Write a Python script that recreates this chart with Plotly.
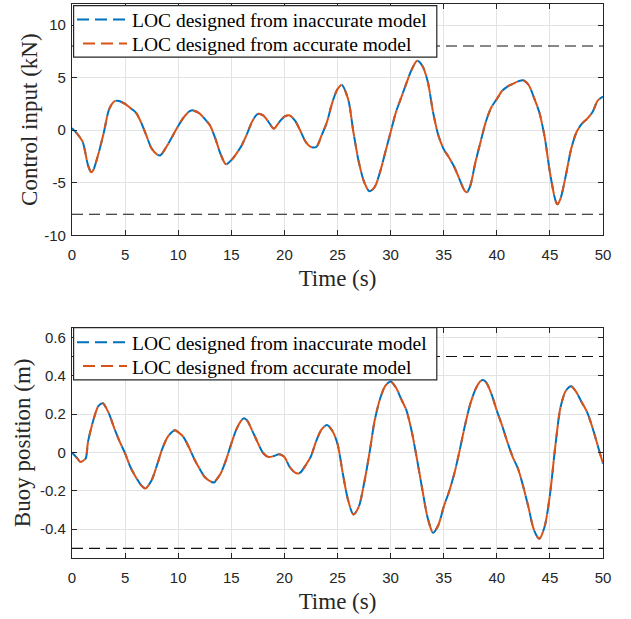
import plotly.graph_objects as go

# ---------------- data ----------------
t_u = [0, 0.5, 1, 1.5, 1.8, 2, 2.5, 3, 3.5, 4, 4.3, 4.5, 5, 5.5, 6, 6.5, 7, 7.5, 8, 8.3, 8.5,
       9, 9.5, 10, 10.5, 11, 11.3, 11.5, 12, 12.5, 13, 13.5, 14, 14.5, 15, 15.5, 16, 16.5, 17,
       17.5, 18, 18.5, 19, 19.5, 20, 20.5, 21, 21.5, 22, 22.5, 23, 23.5, 24, 24.5, 25, 25.4,
       26, 26.5, 27, 27.5, 28, 28.5, 29, 29.5, 30, 30.5, 31, 31.5, 32, 32.5, 33, 33.5, 34,
       34.5, 35, 35.5, 36, 36.5, 37, 37.2, 37.5, 38, 38.5, 39, 39.5, 40, 40.5, 41, 41.5, 42,
       42.5, 43, 43.5, 44, 44.5, 45, 45.5, 45.7, 46, 46.5, 47, 47.5, 48, 48.5, 49, 49.5, 50]
u_inaccurate = [0.2, -0.35, -1.1, -3.3, -4.0, -3.8, -2.2, -0.2, 2.0, 2.75, 2.8, 2.75, 2.5, 2.1,
                1.7, 0.75, -0.5, -1.75, -2.3, -2.4, -2.2, -1.4, -0.5, 0.4, 1.2, 1.75, 1.9, 1.85,
                1.6, 1.07, 0.45, -0.8, -2.3, -3.25, -2.85, -2.2, -1.4, -0.3, 0.9, 1.55, 1.4, 0.8,
                0.15, 0.75, 1.3, 1.4, 0.9, -0.05, -1.1, -1.6, -1.6, -0.5, 0.75, 2.6, 3.9, 4.3,
                2.95, -0.2, -3.0, -4.9, -5.8, -5.4, -4.0, -2.1, -0.2, 1.7, 3.1, 4.5, 5.8, 6.6,
                6.1, 4.6, 1.7, -0.5, -1.8, -2.6, -3.5, -4.7, -5.8, -5.9, -5.3, -3.0, -1.0, 0.9,
                2.2, 2.95, 3.75, 4.15, 4.4, 4.65, 4.75, 4.3, 3.1, 1.7, -0.6, -4.0, -6.6, -7.05,
                -6.5, -4.3, -1.8, -0.2, 0.6, 1.07, 1.7, 2.8, 3.2]
u_accurate = [0.2, -0.35, -1.1, -3.3, -4.0, -3.8, -2.2, -0.2, 2.0, 2.75, 2.8, 2.75, 2.5, 2.1,
              1.7, 0.75, -0.5, -1.75, -2.3, -2.4, -2.2, -1.4, -0.5, 0.4, 1.2, 1.75, 1.9, 1.85,
              1.6, 1.07, 0.45, -0.8, -2.3, -3.25, -2.85, -2.2, -1.4, -0.3, 0.9, 1.55, 1.4, 0.8,
              0.15, 0.75, 1.3, 1.4, 0.9, -0.05, -1.1, -1.6, -1.6, -0.5, 0.75, 2.6, 3.9, 4.3,
              2.95, -0.2, -3.0, -4.9, -5.8, -5.4, -4.0, -2.1, -0.2, 1.7, 3.1, 4.5, 5.8, 6.6,
              6.1, 4.6, 1.7, -0.5, -1.8, -2.6, -3.5, -4.7, -5.8, -5.9, -5.3, -3.0, -1.0, 0.9,
              2.2, 2.95, 3.75, 4.15, 4.4, 4.65, 4.75, 4.3, 3.1, 1.7, -0.6, -4.0, -6.6, -7.05,
              -6.5, -4.3, -1.8, -0.2, 0.6, 1.07, 1.7, 2.8, 3.2]

t_z = [0, 0.5, 0.8, 1, 1.3, 1.5, 2, 2.5, 2.9, 3, 3.5, 4, 4.5, 5, 5.5, 6, 6.5, 6.9, 7, 7.5, 8,
       8.5, 9, 9.5, 9.7, 10, 10.5, 11, 11.5, 12, 12.5, 13, 13.4, 13.5, 14, 14.5, 15, 15.5, 16,
       16.2, 16.5, 17, 17.5, 18, 18.5, 19, 19.5, 20, 20.5, 21, 21.3, 21.5, 22, 22.5, 23, 23.5,
       24, 24.5, 25, 25.5, 26, 26.5, 27, 27.5, 28, 28.5, 29, 29.5, 30, 30.5, 31, 31.5, 32,
       32.5, 33, 33.5, 34, 34.5, 35, 35.5, 36, 36.5, 37, 37.5, 38, 38.5, 38.7, 39, 39.5, 40,
       40.5, 41, 41.5, 42, 42.5, 43, 43.5, 44, 44.5, 45, 45.5, 46, 46.5, 47, 47.5, 48, 48.5,
       49, 49.5, 50]
z_inaccurate = [0, -0.031, -0.05, -0.045, -0.03, 0.053, 0.166, 0.243, 0.256, 0.252, 0.2, 0.123,
                0.055, -0.005, -0.076, -0.128, -0.17, -0.188, -0.185, -0.145, -0.067, 0.019,
                0.08, 0.11, 0.115, 0.106, 0.08, 0.028, -0.033, -0.084, -0.128, -0.15, -0.157,
                -0.15, -0.11, -0.04, 0.046, 0.123, 0.17, 0.178, 0.166, 0.11, 0.05, -0.003,
                -0.024, -0.019, -0.01, -0.024, -0.076, -0.105, -0.11, -0.105, -0.067, -0.02,
                0.06, 0.12, 0.143, 0.114, 0.045, -0.11, -0.249, -0.323, -0.283, -0.162, -0.007,
                0.166, 0.278, 0.347, 0.37, 0.338, 0.278, 0.218, 0.106, -0.04, -0.197, -0.343,
                -0.418, -0.378, -0.283, -0.205, -0.11, 0.01, 0.14, 0.252, 0.33, 0.373, 0.377,
                0.365, 0.304, 0.218, 0.14, 0.053, -0.024, -0.085, -0.18, -0.29, -0.404, -0.45,
                -0.387, -0.222, 0.028, 0.235, 0.321, 0.345, 0.313, 0.261, 0.21, 0.131, 0.036,
                -0.059]
z_accurate = [0, -0.031, -0.05, -0.045, -0.03, 0.053, 0.166, 0.243, 0.256, 0.252, 0.2, 0.123,
              0.055, -0.005, -0.076, -0.128, -0.17, -0.188, -0.185, -0.145, -0.067, 0.019,
              0.08, 0.11, 0.115, 0.106, 0.08, 0.028, -0.033, -0.084, -0.128, -0.15, -0.157,
              -0.15, -0.11, -0.04, 0.046, 0.123, 0.17, 0.178, 0.166, 0.11, 0.05, -0.003,
              -0.024, -0.019, -0.01, -0.024, -0.076, -0.105, -0.11, -0.105, -0.067, -0.02,
              0.06, 0.12, 0.143, 0.114, 0.045, -0.11, -0.249, -0.323, -0.283, -0.162, -0.007,
              0.166, 0.278, 0.347, 0.37, 0.338, 0.278, 0.218, 0.106, -0.04, -0.197, -0.343,
              -0.418, -0.378, -0.283, -0.205, -0.11, 0.01, 0.14, 0.252, 0.33, 0.373, 0.377,
              0.365, 0.304, 0.218, 0.14, 0.053, -0.024, -0.085, -0.18, -0.29, -0.404, -0.45,
              -0.387, -0.222, 0.028, 0.235, 0.321, 0.345, 0.313, 0.261, 0.21, 0.131, 0.036,
              -0.059]

t_limits = [0, 50]
u_limits = [-8, 8]
z_limits = [-0.5, 0.5]

x_ticks = [0, 5, 10, 15, 20, 25, 30, 35, 40, 45, 50]
u_ticks = [-10, -5, 0, 5, 10]
u_ticktext = ["-10", "-5", "0", "5", "10"]
z_ticks = [-0.4, -0.2, 0, 0.2, 0.4, 0.6]
z_ticktext = ["-0.4", "-0.2", "0", "0.2", "0.4", "0.6"]

names = ["LOC designed from inaccurate model", "LOC designed from accurate model"]

# ---------------- styles ----------------
BLUE = "#0072BD"
ORANGE = "#D95319"
AX = "#262626"
GRID = "#e3e3e3"
SANS = "Liberation Sans, Arial, sans-serif"
SERIF = "Liberation Serif, Times New Roman, serif"

W, H = 631, 619
ML, MR, MT, MB = 72, 28, 0, 61
PH = H - MT - MB  # plot-area height in px


def py2paper(py):
    return (PH - (py - MT)) / PH


fig = go.Figure()


def add_panel(t, a, b, lims, xa, ya, legs):
    for lv in lims:
        fig.add_trace(go.Scatter(x=t_limits, y=[lv, lv], mode="lines",
                                 line=dict(color="#111111", width=1.1, dash="11px,6px"),
                                 showlegend=False, hoverinfo="skip", xaxis=xa, yaxis=ya))
    fig.add_trace(go.Scatter(x=t, y=a, mode="lines", name=names[0],
                             line=dict(color=BLUE, width=2, dash="12px,6px", shape="spline", smoothing=0.8),
                             xaxis=xa, yaxis=ya, legend=legs[0]))
    fig.add_trace(go.Scatter(x=t, y=b, mode="lines", name=names[1],
                             line=dict(color=ORANGE, width=2, dash="0px,6px,12px,0px", shape="spline", smoothing=0.8),
                             xaxis=xa, yaxis=ya, legend=legs[1]))


add_panel(t_u, u_inaccurate, u_accurate, u_limits, "x", "y", ["legend", "legend2"])
add_panel(t_z, z_inaccurate, z_accurate, z_limits, "x2", "y2", ["legend3", "legend4"])

axis_common = dict(
    showline=True, linecolor=AX, linewidth=1.2, mirror="ticks",
    ticks="inside", ticklen=5, tickwidth=1, tickcolor=AX,
    showgrid=True, gridcolor=GRID, gridwidth=1, zeroline=False, automargin=False,
    tickfont=dict(family=SANS, size=15, color=AX),
)

top_dom = [py2paper(233), 1]
bot_dom = [0, py2paper(326)]

# legend boxes (white, bordered) drawn as shapes
for xr, yr, y0, y1 in [("x domain", "y domain", 0.77, 0.993), ("x2 domain", "y2 domain", 0.773, 1.0)]:
    fig.add_shape(type="rect", xref=xr, yref=yr, x0=0.003, x1=0.687, y0=y0, y1=y1,
                  fillcolor="white", line=dict(color=AX, width=1.2), layer="above")


def leg(ypx):
    return dict(x=0.0, y=py2paper(ypx), xanchor="left", yanchor="middle",
                bgcolor="rgba(0,0,0,0)", borderwidth=0, itemwidth=50,
                font=dict(family=SERIF, size=19.5, color="black"))


fig.update_layout(
    width=W, height=H,
    margin=dict(l=ML, r=MR, t=MT, b=MB),
    paper_bgcolor="white", plot_bgcolor="white",
    xaxis=dict(axis_common, domain=[0, 1], range=[0, 50], tickvals=x_ticks, anchor="y",
               ticklabelstandoff=6,
               title=dict(text="Time (s)", font=dict(family=SERIF, size=23, color=AX), standoff=7)),
    yaxis=dict(axis_common, domain=top_dom, range=[-10, 12], tickvals=u_ticks, ticktext=u_ticktext,
               anchor="x", ticklabelstandoff=2,
               title=dict(text="Control input (kN)", font=dict(family=SERIF, size=23, color=AX), standoff=0)),
    xaxis2=dict(axis_common, domain=[0, 1], range=[0, 50], tickvals=x_ticks, anchor="y2",
                ticklabelstandoff=6,
                title=dict(text="Time (s)", font=dict(family=SERIF, size=23, color=AX), standoff=7)),
    yaxis2=dict(axis_common, domain=bot_dom, range=[-0.55, 0.65], tickvals=z_ticks, ticktext=z_ticktext,
                anchor="x2", ticklabelstandoff=2,
                title=dict(text="Buoy position (m)", font=dict(family=SERIF, size=23, color=AX), standoff=2)),
    legend=leg(16),
    legend2=leg(40),
    legend3=leg(341),
    legend4=leg(365),
)

fig.write_html("out.html", config={"displayModeBar": False},
               post_script="document.body.style.margin='0';document.body.style.padding='0';")
